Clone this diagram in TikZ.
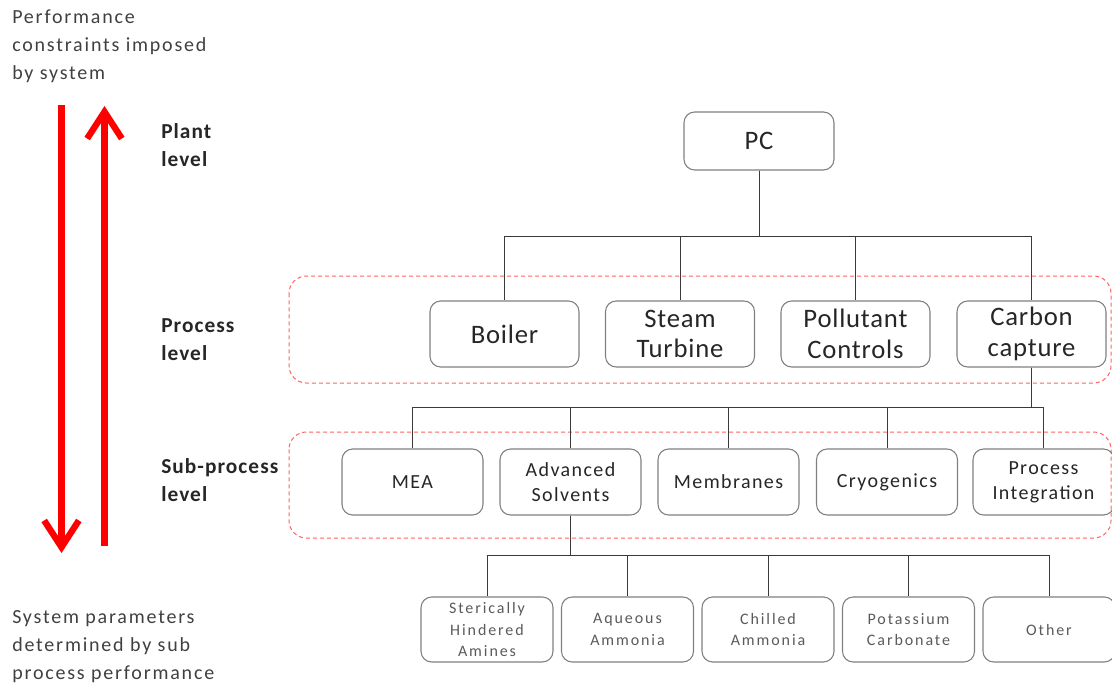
\documentclass[tikz,border=0pt]{standalone}
\usepackage{fontspec}
\setmainfont{Carlito}
\newfontfamily\notefont[LetterSpace=9]{Carlito}
\newfontfamily\levelfont[LetterSpace=5]{Carlito}
\newfontfamily\procfont[LetterSpace=3]{Carlito}
\newfontfamily\subfont[LetterSpace=7]{Carlito}
\newfontfamily\leaffont[LetterSpace=12]{Carlito}
\usetikzlibrary{arrows.meta}

\definecolor{boxgray}{HTML}{7F7F7F}
\definecolor{linkgray}{HTML}{3A3A3A}
\definecolor{groupred}{HTML}{FF6464}
\definecolor{boxtext}{HTML}{262626}
\definecolor{leaftext}{HTML}{5A5A5A}
\definecolor{notegray}{HTML}{404040}

\begin{document}
\begin{tikzpicture}[x=0.75pt,y=-0.75pt,
  box/.style={draw=boxgray, line width=0.8pt, rounded corners=8pt,
    align=center, inner sep=0pt, text=boxtext},
  topbox/.style={box, minimum width=150*0.75pt, minimum height=58*0.75pt,
    font=\procfont\fontsize{20}{23}\selectfont},
  procbox/.style={box, minimum width=149*0.75pt, minimum height=66*0.75pt,
    font=\procfont\fontsize{20}{23}\selectfont},
  subbox/.style={box, minimum width=141*0.75pt, minimum height=66*0.75pt,
    font=\subfont\fontsize{15}{19}\selectfont},
  leafbox/.style={box, minimum width=132*0.75pt, minimum height=65*0.75pt,
    font=\leaffont\fontsize{12}{16}\selectfont, text=leaftext},
  group/.style={draw=groupred, dash pattern=on 3pt off 2.25pt,
    line width=0.75pt, rounded corners=13pt},
  link/.style={draw=linkgray, line width=0.7pt},
  levellabel/.style={anchor=north west, inner sep=0pt, align=left,
    font=\levelfont\bfseries\fontsize{16}{21}\selectfont, text=black!85},
  note/.style={anchor=north west, inner sep=0pt, align=left,
    font=\notefont\fontsize{15}{21}\selectfont, text=notegray},
  flow/.style={draw=red, line width=4.8pt,
    -{Straight Barb[length=20pt,width=26pt]}}]

\useasboundingbox (0,0) rectangle (1112,684);

% dashed frames around the process and sub-process levels
\draw[group] (289,276) rectangle (1111,383);
\draw[group] (289,432) rectangle (1111,538);

% side notes and level names
\node[note] (topnote) at (12,10) {Performance\\constraints imposed\\by system};
\node[note] (botnote) at (12,610) {System parameters\\determined by sub\\process performance};
\node[levellabel] (plant) at (161,123) {Plant\\level};
\node[levellabel] (process) at (161,318) {Process\\level};
\node[levellabel] (subprocess) at (161,458) {Sub-process\\level};

% red flow arrows
\coordinate (downstart) at (61.5,105);
\coordinate (downend) at (61.5,553);
\coordinate (upstart) at (104.5,546);
\coordinate (upend) at (104.5,106);
\draw[flow] (downstart) -- (downend);
\draw[flow] (upstart) -- (upend);

% plant level
\node[topbox] (pc) at (759,141) {PC};

% process level
\node[procbox] (boiler) at (504.5,334) {Boiler};
\node[procbox] (steam) at (680,334) {Steam\\Turbine};
\node[procbox] (pollutant) at (855.5,334) {Pollutant\\Controls};
\node[procbox] (carbon) at (1031.5,334) {Carbon\\capture};

% sub-process level
\node[subbox] (mea) at (412.5,482) {MEA};
\node[subbox] (solvents) at (570.5,482) {Advanced\\Solvents};
\node[subbox] (membranes) at (728.5,482) {Membranes};
\node[subbox] (cryo) at (887,482) {Cryogenics};
\node[subbox] (integration) at (1043.5,482) {Process\\Integration};

% solvent options
\node[leafbox] (steric) at (487,629.5) {Sterically\\Hindered\\Amines};
\node[leafbox] (aqueous) at (627.5,629.5) {Aqueous\\Ammonia};
\node[leafbox] (chilled) at (768,629.5) {Chilled\\Ammonia};
\node[leafbox] (potassium) at (908.5,629.5) {Potassium\\Carbonate};
\node[leafbox] (other) at (1049,629.5) {Other};

% tree connectors
\foreach \c in {boiler,steam,pollutant,carbon}
  \draw[link] (pc.south) -- (pc.south |- 0,236) -| (\c.north);
\foreach \c in {mea,solvents,membranes,cryo,integration}
  \draw[link] (carbon.south) -- (carbon.south |- 0,407) -| (\c.north);
\foreach \c in {steric,aqueous,chilled,potassium,other}
  \draw[link] (solvents.south) -- (solvents.south |- 0,555) -| (\c.north);

\end{tikzpicture}
\end{document}
